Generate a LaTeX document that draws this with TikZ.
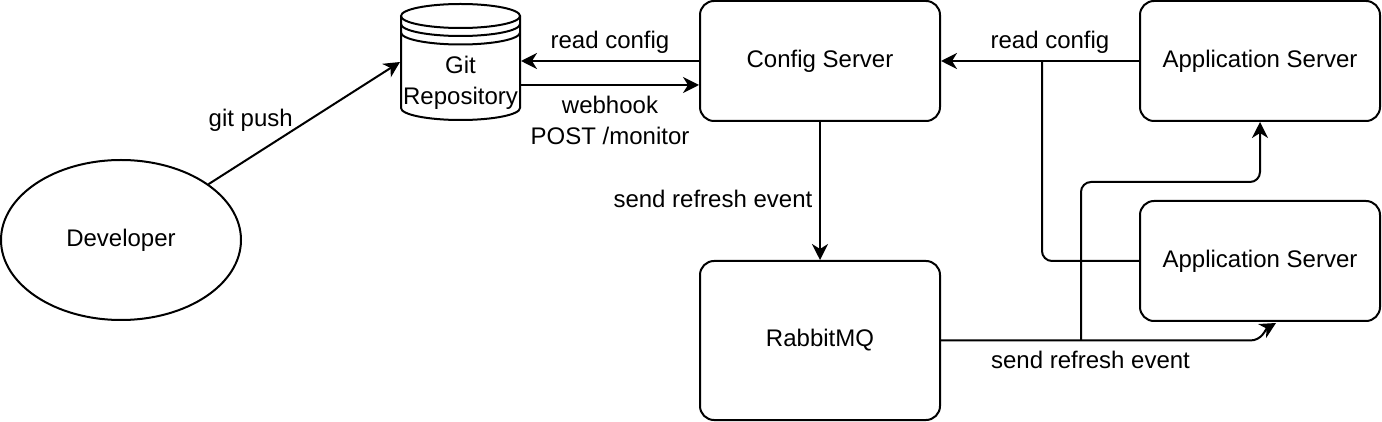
\documentclass[tikz,border=0pt]{standalone}
\usepackage{fontspec}
\setmainfont{Liberation Sans}
\usetikzlibrary{shapes.geometric,arrows.meta}
\begin{document}
\begin{tikzpicture}[x=0.5pt,y=0.5pt,line width=1pt,
  every node/.style={font=\fontsize{12}{15.5}\selectfont},
  box/.style={draw,rounded corners=7pt,minimum width=120pt,minimum height=60pt},
  arr/.style={-{Stealth[length=8pt,width=8pt,inset=2.5pt]}}]
\useasboundingbox (0,0) rectangle (1382,-422);
% nodes
\node[draw,ellipse,minimum width=120pt,minimum height=80pt,inner sep=0pt] (dev) at (121,-240) {Developer};
\node[minimum width=59.5pt,minimum height=58pt,inner sep=0pt] (git) at (460.5,-62) {};
\node[box] (cfg) at (820,-61) {Config Server};
\node[box] (app1) at (1260,-61) {Application Server};
\node[box] (app2) at (1260,-261) {Application Server};
\node[box,minimum height=79.5pt] (mq) at (820,-340.5) {RabbitMQ};
% git repository drum
\draw (401,-16) -- (401,-108) arc[start angle=180,end angle=360,x radius=59.5,y radius=12] -- (520,-16);
\draw (460.5,-16) ellipse[x radius=59.5,y radius=12];
\draw (401,-24) arc[start angle=180,end angle=360,x radius=59.5,y radius=12];
\draw (401,-32.5) arc[start angle=180,end angle=360,x radius=59.5,y radius=12];
\node[align=center] (gitlbl) at (460.5,-83) {Git\\Repository};
% connectors
\draw[arr] (dev) -- (git.west) node[pos=0.22,yshift=18.5pt]{git push};
\draw[arr] (cfg.west) -- (cfg.west -| git.east) node[midway,above]{read config};
\draw[arr] ([yshift=-11.5pt]git.east) -- ([yshift=-11.5pt]git.east -| cfg.west) node[midway,below,yshift=-1.5pt,align=center]{webhook\\POST /monitor};
\draw[arr] (cfg) -- (mq) node[pos=0.56,left]{send refresh event};
\draw[arr] (app1) -- (cfg) node[midway,above,xshift=5pt]{read config};
\coordinate (jn) at (1042,-61);
\draw[rounded corners=5pt] (app2.west) -| (jn);
\coordinate (tip) at (1276,-323);
\draw[arr] (mq.east) -- node[below,xshift=-2.5pt,yshift=-1.5pt]{send refresh event} (1250,-340.5) to[out=0,in=210] (tip);
\coordinate (br) at (1081,-340.5);
\draw[arr,rounded corners=5pt] (br) |- ([yshift=-30pt]app1.south) -- (app1.south);
\end{tikzpicture}
\end{document}
